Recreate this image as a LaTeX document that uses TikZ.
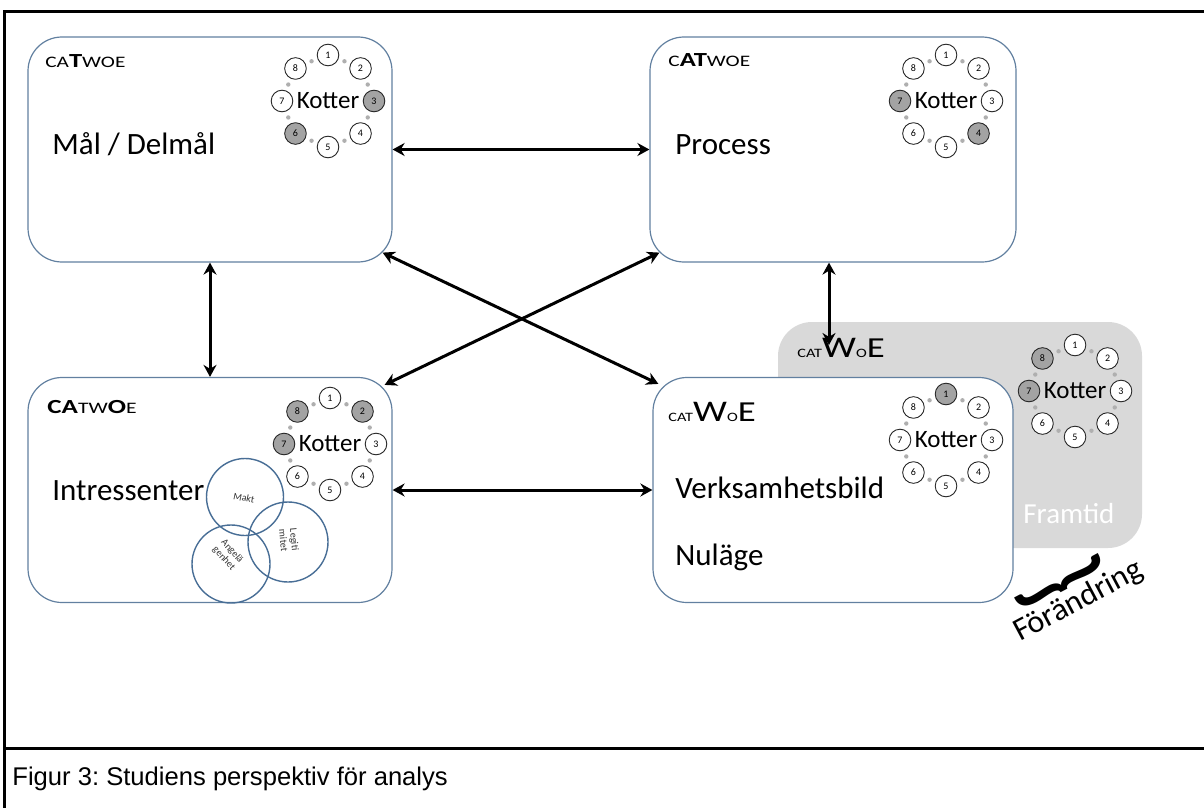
\documentclass[tikz,border=0pt]{standalone}
\usepackage{fontspec}
\usepackage{graphicx}
\setmainfont{Carlito}
\newfontfamily\capfont{Liberation Sans}
\usetikzlibrary{arrows.meta,calc}
\frenchspacing

\definecolor{boxline}{RGB}{98,128,160}
\definecolor{vennline}{RGB}{72,110,150}
\definecolor{futuregray}{RGB}{217,217,217}
\definecolor{stepgray}{RGB}{163,163,163}
\definecolor{ringdot}{RGB}{175,175,175}

% font size helper
\newcommand\sz[2]{{\fontsize{#1}{#1}\selectfont #2}}

% Kotter's eight steps arranged round the word "Kotter"
% #1 name prefix, #2 centre, #3 list step/style
\newcommand\kotterring[3]{%
  \node[kotterlbl] (#1k) at (#2) {Kotter};
  \foreach \n in {1,...,8}
    \fill[ringdot] ($(#2)+({-90+45*\n-22.5}:43)$) circle[radius=2.2];
  \foreach \n/\s in {#3}
    \node[kstep,\s] (#1\n) at ($(#2)+({-90+45*(\n-1)}:46)$) {\n};
}

\tikzset{
  box/.style={draw=boxline, line width=0.6pt, fill=white, rounded corners=17pt,
    minimum width=182pt, minimum height=112.5pt, inner sep=0pt},
  futurebox/.style={fill=futuregray, rounded corners=17pt,
    minimum width=182pt, minimum height=113pt, inner sep=0pt},
  kotterlbl/.style={font=\fontsize{12.5}{14}\selectfont, inner sep=0pt},
  kstep/.style={circle, draw=black!85, line width=0.45pt, minimum size=10.8pt,
    inner sep=0pt, font=\fontsize{5}{6}\selectfont},
  kw/.style={fill=white},
  kg/.style={fill=stepgray},
  title/.style={anchor=base west, inner sep=0pt, font=\fontsize{15.5}{18}\selectfont},
  hdr/.style={anchor=base west, inner sep=0pt},
  venn/.style={draw=vennline, line width=0.7pt, circle, inner sep=0pt},
  vennlbl/.style={font=\fontsize{5}{5.5}\selectfont, inner sep=0pt, align=center, text=black!80},
  biarrow/.style={line width=1.5pt, {Stealth[length=6pt,width=6.5pt]}-{Stealth[length=6pt,width=6.5pt]}},
  frame/.style={line width=1.5pt, line cap=rect}
}

\begin{document}
\begin{tikzpicture}[x=0.5pt,y=-0.5pt]
\clip (0,0) rectangle (1204,808);

% outer frame and caption rule
\draw[frame] (1215,12) -- (4,12) -- (4,815);
\draw[frame] (4,748) -- (1215,748);

% future state panel behind the current state
\node[futurebox] (fram) at (960,435) {};

% the four perspective boxes
\node[box] (mal)  at (210,149.5) {};
\node[box, minimum width=183pt] (proc) at (833,149.5) {};
\node[box] (intr) at (210,490) {};
\node[box, minimum width=180pt] (verk) at (833,490) {};

% CATWOE headers
\node[hdr] (malh) at (45,68)
  {\scalebox{1.33}[1]{\sz{8}{CA}\sz{10}{\bfseries T}\sz{8}{WOE}}};
\node[hdr] (proch) at (668,67)
  {\scalebox{1.33}[1]{\sz{8}{C}\sz{10}{\bfseries AT}\sz{8}{WOE}}};
\node[hdr] (intrh) at (47,413)
  {\scalebox{1.35}[1]{\sz{10}{\bfseries CA}\sz{8}{TW}\sz{10}{\bfseries O}\sz{8}{E}}};
\node[hdr] (verkh) at (668,421)
  {\scalebox{1.27}[1]{\sz{6.4}{CAT}\sz{15}{W}\sz{6.4}{O}\sz{14.5}{E}}};
\node[hdr] (framh) at (797,357)
  {\scalebox{1.27}[1]{\sz{6.4}{CAT}\sz{15}{W}\sz{6.4}{O}\sz{14.5}{E}}};

% box titles
\node[title] (malt)  at (52,155)  {Mål / Delmål};
\node[title] (proct) at (675,155) {Process};
\node[title] (intrt) at (52,500)  {Intressenter};
\node[title] (verkt) at (675,498) {Verksamhetsbild};
\node[title] (nul)   at (675,565) {Nuläge};
\node[title, text=white, font=\fontsize{14.5}{17}\selectfont] (framt) at (1023,523) {Framtid};

% Kotter rings
\kotterring{a}{328,101}{1/kw,2/kw,3/kg,4/kw,5/kw,6/kg,7/kw,8/kw}
\kotterring{b}{946,101}{1/kw,2/kw,3/kw,4/kg,5/kw,6/kw,7/kg,8/kw}
\kotterring{c}{330,444}{1/kw,2/kg,3/kw,4/kw,5/kw,6/kw,7/kg,8/kg}
\kotterring{d}{946,440}{1/kg,2/kw,3/kw,4/kw,5/kw,6/kw,7/kw,8/kw}
\kotterring{e}{1075,391}{1/kw,2/kw,3/kw,4/kw,5/kw,6/kw,7/kg,8/kg}

% stakeholder Venn diagram
\node[venn, minimum size=38.5pt] (makt) at (245,497) {};
\node[venn, minimum size=39pt]   (ang)  at (231,564) {};
\node[venn, minimum size=40pt]   (leg)  at (288,542) {};
\node[vennlbl, rotate=-12] (maktl) at (244,498) {Makt};
\node[vennlbl, rotate=-48] (angl)  at (228,555) {Angelä\\genhet};
\node[vennlbl, rotate=-85] (legl)  at (289,540) {Legiti\\mitet};

% connectors
\coordinate (futtip) at (829,345);
\draw[biarrow] (mal.east) -- (proc.west);
\draw[biarrow] (intr.east) -- (verk.west);
\draw[biarrow] (mal.south) -- (intr.north);
\draw[biarrow] ([xshift=-2pt]proc.south) -- (futtip);
\draw[biarrow] ([xshift=-5pt,yshift=5pt]mal.south east) -- ([xshift=3pt,yshift=-3.5pt]verk.north west);
\draw[biarrow] ([xshift=5pt,yshift=5pt]proc.south west) -- ([xshift=-4pt,yshift=-4pt]intr.north east);

% change brace
\node[font=\fontsize{36}{36}\selectfont\bfseries, rotate=-62, inner sep=0pt] (brace) at (1060,583)
  {\scalebox{1}[1.5]{\}}};
\node[anchor=base west, inner sep=0pt, rotate=28, font=\fontsize{16}{18}\selectfont] (chg) at (1020,642) {Förändring};

% caption
\node[anchor=base west, inner sep=0pt, font=\capfont\fontsize{12.8}{14}\selectfont] (cap) at (12,785)
  {Figur 3: Studiens perspektiv för analys};
\end{tikzpicture}
\end{document}
